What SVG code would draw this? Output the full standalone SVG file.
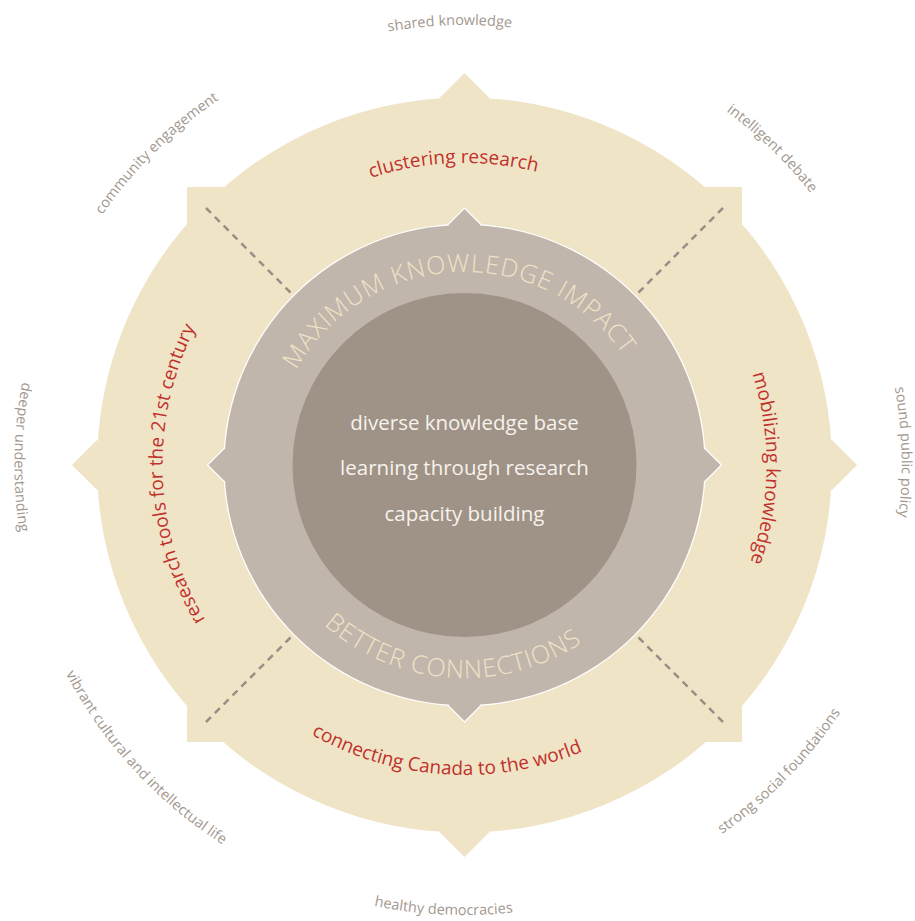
<svg xmlns="http://www.w3.org/2000/svg" xmlns:xlink="http://www.w3.org/1999/xlink" width="915" height="921" viewBox="0 0 915 921">
<style>
.band{fill:#f0e4c7}
.ring{fill:#c1b6ac}
.ringS{fill:#c1b6ac;stroke:#ffffff;stroke-width:2.5}
.core{fill:#9f9388}
.dash{stroke:#9a8e85;stroke-width:2.5;stroke-dasharray:7 5.5;fill:none}
.outer{font-family:"Open Sans","Noto Sans",sans-serif;font-size:14.5px;fill:#a3978e}
.red{font-family:"Open Sans","Noto Sans",sans-serif;font-size:19px;fill:#c0312b}
.ringt{font-family:"Open Sans","Noto Sans",sans-serif;font-size:25px;font-weight:300;fill:#efe3c6;letter-spacing:1px}
.ctr{font-family:"Open Sans","Noto Sans",sans-serif;font-size:20.5px;fill:#f7f2ec;text-anchor:middle}
</style>
<defs>
<path id="ocw" d="M464.5,905 A440,440 0 1 1 464.5,25 A440,440 0 1 1 464.5,905"/>
<path id="ocw2" d="M464.5,902 A437,437 0 1 1 464.5,28 A437,437 0 1 1 464.5,902"/>
<path id="occw" d="M464.5,15 A450,450 0 1 0 464.5,915 A450,450 0 1 0 464.5,15"/>
<path id="rcw" d="M464.5,767 A302,302 0 1 1 464.5,163 A302,302 0 1 1 464.5,767"/>
<path id="rccw" d="M464.5,155 A310,310 0 1 0 464.5,775 A310,310 0 1 0 464.5,155"/>
<path id="icw" d="M464.5,658 A193,193 0 1 1 464.5,272 A193,193 0 1 1 464.5,658"/>
<path id="iccw" d="M464.5,252 A213,213 0 1 0 464.5,678 A213,213 0 1 0 464.5,252"/>
</defs>
<g id="outer-band">
<circle class="band" cx="464.5" cy="465" r="367.5"/>
<rect class="band" x="187" y="187" width="555" height="555"/>
<polygon class="band" points="464.5,73 489.5,98 464.5,123 439.5,98"/>
<polygon class="band" points="464.5,857 489.5,832 464.5,807 439.5,832"/>
<polygon class="band" points="72,465 97,440 122,465 97,490"/>
<polygon class="band" points="857,465 832,440 807,465 832,490"/>
</g>
<g id="connectors">
<line class="dash" x1="206" y1="208" x2="293" y2="295"/>
<line class="dash" x1="723" y1="208" x2="636" y2="295"/>
<line class="dash" x1="206" y1="722" x2="293" y2="635"/>
<line class="dash" x1="723" y1="722" x2="636" y2="635"/>
</g>
<g id="ring">
<circle class="ringS" cx="464.5" cy="465" r="240"/>
<polygon class="ringS" points="464.5,209 480.5,225 464.5,241 448.5,225"/>
<polygon class="ringS" points="464.5,721 480.5,705 464.5,689 448.5,705"/>
<polygon class="ringS" points="208.5,465 224.5,449 240.5,465 224.5,481"/>
<polygon class="ringS" points="720.5,465 704.5,449 688.5,465 704.5,481"/>
<circle class="ring" cx="464.5" cy="465" r="240"/>
<polygon class="ring" points="464.5,209 480.5,225 464.5,241 448.5,225"/>
<polygon class="ring" points="464.5,721 480.5,705 464.5,689 448.5,705"/>
<polygon class="ring" points="208.5,465 224.5,449 240.5,465 224.5,481"/>
<polygon class="ring" points="720.5,465 704.5,449 688.5,465 704.5,481"/>
<text class="ringt"><textPath xlink:href="#icw" href="#icw" startOffset="49.3%" text-anchor="middle">MAXIMUM KNOWLEDGE IMPACT</textPath></text>
<text class="ringt"><textPath xlink:href="#iccw" href="#iccw" startOffset="48.95%" text-anchor="middle">BETTER CONNECTIONS</textPath></text>
</g>
<g id="core">
<circle class="core" cx="464.5" cy="465" r="172"/>
<text class="ctr" x="464.5" y="430">diverse knowledge base</text>
<text class="ctr" x="464.5" y="475">learning through research</text>
<text class="ctr" x="464.5" y="521">capacity building</text>
</g>
<g id="band-labels">
<text class="red"><textPath xlink:href="#rcw" href="#rcw" startOffset="49.42%" text-anchor="middle">clustering research</textPath></text>
<text class="red"><textPath xlink:href="#rcw" href="#rcw" startOffset="75.17%" text-anchor="middle">mobilizing knowledge</textPath></text>
<text class="red"><textPath xlink:href="#rcw" href="#rcw" startOffset="24.47%" text-anchor="middle">research tools for the 21st century</textPath></text>
<text class="red"><textPath xlink:href="#rccw" href="#rccw" startOffset="49%" text-anchor="middle">connecting Canada to the world</textPath></text>
</g>
<g id="outer-labels">
<text class="outer"><textPath xlink:href="#ocw" href="#ocw" startOffset="49.47%" text-anchor="middle">shared knowledge</textPath></text>
<text class="outer"><textPath xlink:href="#ocw" href="#ocw" startOffset="37.6%" text-anchor="middle">community engagement</textPath></text>
<text class="outer"><textPath xlink:href="#ocw" href="#ocw" startOffset="62.28%" text-anchor="middle">intelligent debate</textPath></text>
<text class="outer"><textPath xlink:href="#ocw2" href="#ocw2" startOffset="74.53%" text-anchor="middle">sound public policy</textPath></text>
<text class="outer"><textPath xlink:href="#occw" href="#occw" startOffset="24.72%" text-anchor="middle">deeper understanding</textPath></text>
<text class="outer"><textPath xlink:href="#occw" href="#occw" startOffset="36.83%" text-anchor="middle">vibrant cultural and intellectual life</textPath></text>
<text class="outer"><textPath xlink:href="#occw" href="#occw" startOffset="49.25%" text-anchor="middle">healthy democracies</textPath></text>
<text class="outer"><textPath xlink:href="#occw" href="#occw" startOffset="62.72%" text-anchor="middle">strong social foundations</textPath></text>
</g>
</svg>
